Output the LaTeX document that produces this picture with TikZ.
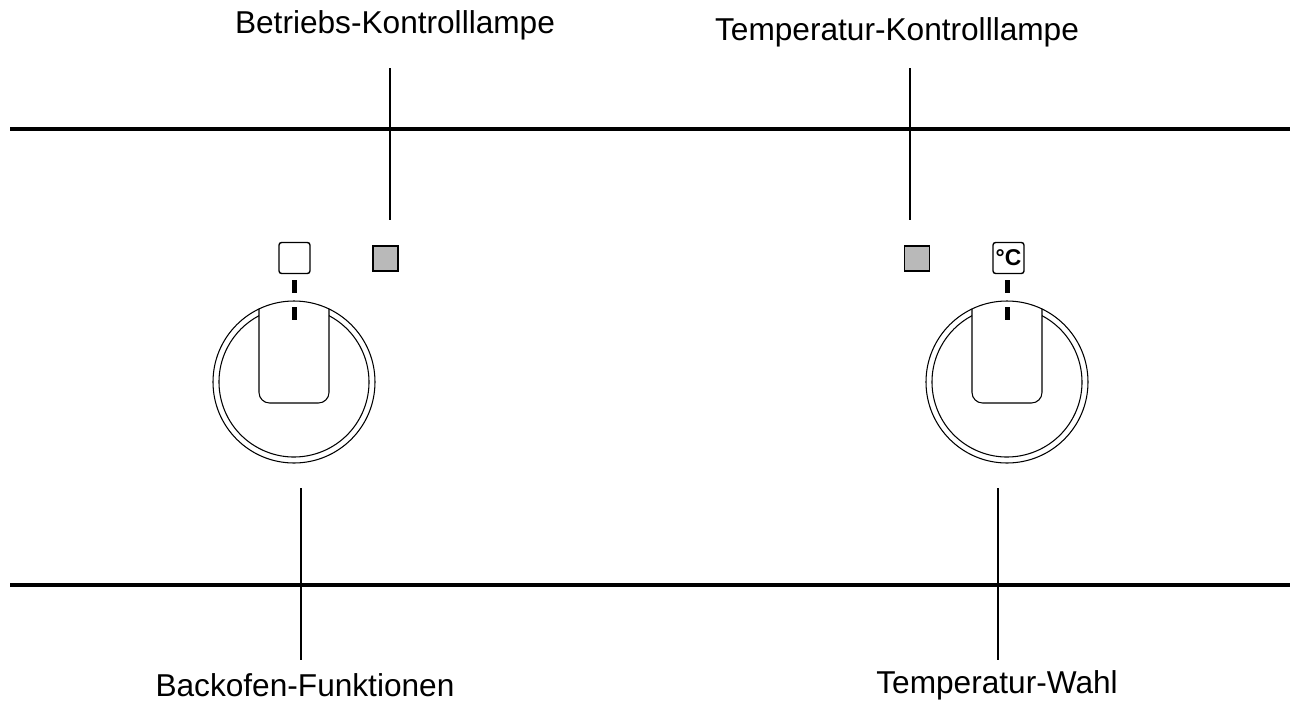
\documentclass[tikz,border=0pt]{standalone}
\usepackage{fontspec}
\setmainfont{Liberation Sans}
\begin{document}
\begin{tikzpicture}[x=0.02cm,y=-0.02cm,
  lbl/.style={font=\fontsize{18}{20}\selectfont, inner sep=0pt},
  leader/.style={line width=0.6pt},
  rail/.style={line width=2.2pt},
  lamp/.style={draw, line width=0.6pt, fill=gray!55, minimum size=0.5cm, inner sep=0pt},
  icon/.style={draw, line width=0.8pt, rounded corners=1.5pt, minimum size=0.62cm, inner sep=0pt},
  tick/.style={fill=black}]
\useasboundingbox (0,0) rectangle (1296,707);
\coordinate (r1a) at (10,129); \coordinate (r1b) at (1290,129);
\coordinate (r2a) at (10,585); \coordinate (r2b) at (1290,585);
\draw[rail] (r1a) -- (r1b);
\draw[rail] (r2a) -- (r2b);
% labels
\node[lbl] (t1) at (395,25) {Betriebs-Kontrolllampe};
\node[lbl] (t2) at (897,32) {Temperatur-Kontrolllampe};
\node[lbl] (t3) at (305,685) {Backofen-Funktionen};
\node[lbl] (t4) at (997,685) {Temperatur-Wahl};
\coordinate (l1a) at (390,68); \coordinate (l1b) at (390,220);
\coordinate (l2a) at (910,68); \coordinate (l2b) at (910,220);
\coordinate (l3a) at (301,488); \coordinate (l3b) at (301,660);
\coordinate (l4a) at (998,488); \coordinate (l4b) at (998,660);
\draw[leader] (l1a) -- (l1b);
\draw[leader] (l2a) -- (l2b);
\draw[leader] (l3a) -- (l3b);
\draw[leader] (l4a) -- (l4b);
% lamps and icons
\node[lamp] (g1) at (385.5,258.5) {};
\node[lamp] (g2) at (917,258.5) {};
\node[icon] (i1) at (294.5,258) {};
\node[icon, font=\fontsize{13}{13}\selectfont\bfseries] (i2) at (1008.5,258) {°C};
% knobs
\foreach \cx/\n in {294/k1,1007/k2}{
  \draw[line width=0.6pt] (\cx,382) circle[radius=81];
  \draw[line width=0.6pt] ({\cx+75*cos(-62.2)},{382+75*sin(-62.2)}) arc[start angle=-62.2, end angle=242.2, radius=75];
  \draw[line width=0.6pt, rounded corners=6pt] (\cx-35,{382-sqrt(81*81-35*35)}) -- (\cx-35,403) -- (\cx+35,403) -- (\cx+35,{382-sqrt(81*81-35*35)});
  \fill[tick] (\cx-2.5,280) rectangle (\cx+2.5,293);
  \fill[tick] (\cx-2.5,307) rectangle (\cx+2.5,320);
}
\end{tikzpicture}
\end{document}
